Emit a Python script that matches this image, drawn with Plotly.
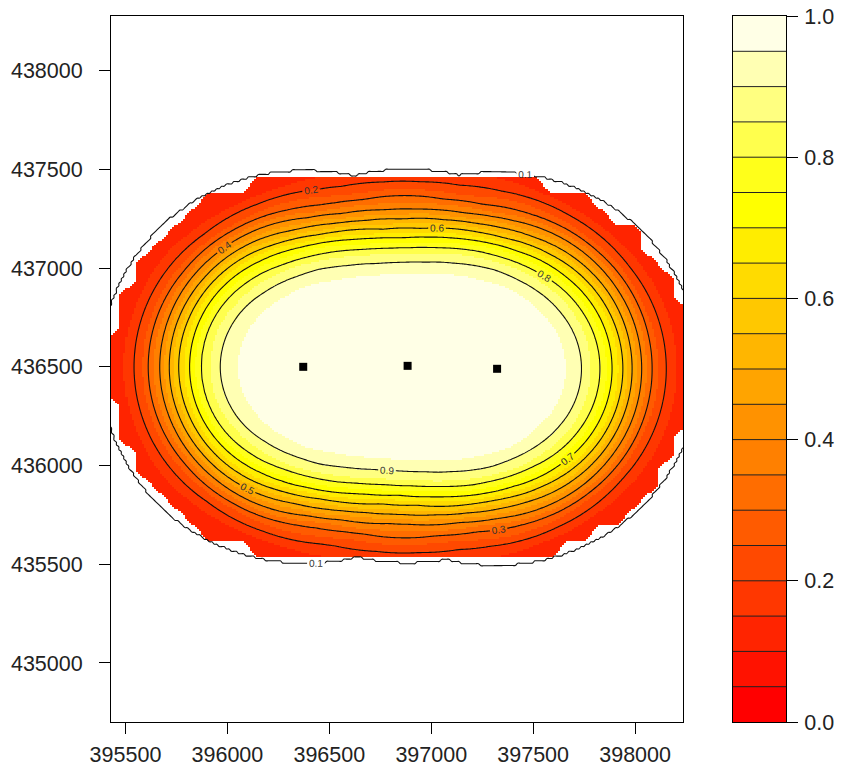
import numpy as np
import plotly.graph_objects as go

# Receiver positions (easting, northing in metres)
receiver_x = [396372, 396884, 397323]
receiver_y = [436500, 436505, 436490]

# Single-receiver detection probability against distance (m)
range_m = [0, 100, 200, 300, 400, 500, 600, 700, 800, 900, 1000, 1100, 1200]
detect_p = [0.996, 0.990, 0.978, 0.951, 0.894, 0.784, 0.613, 0.407, 0.230, 0.130, 0.080, 0.030, 0.0]
# Surface is defined within this distance of the nearest receiver,
# and never reported below the floor value inside that range
max_range_m = 1000
floor_p = 0.105

# Colour levels (0.05 steps) and heat palette
levels = [round(0.05 * i, 2) for i in range(21)]
heat_colors = [
    "#FF0000", "#FF1200", "#FF2400", "#FF3700", "#FF4900",
    "#FF5B00", "#FF6D00", "#FF8000", "#FF9200", "#FFA400",
    "#FFB600", "#FFC800", "#FFDB00", "#FFED00", "#FFFF00",
    "#FFFF1A", "#FFFF4D", "#FFFF80", "#FFFFB3", "#FFFFE6",
]

# Axis extents and ticks
x_range = [395429, 398235]
y_range = [434701, 438277]
x_ticks = [395500, 396000, 396500, 397000, 397500, 398000]
y_ticks = [435000, 435500, 436000, 436500, 437000, 437500, 438000]
bar_ticks = [0.0, 0.2, 0.4, 0.6, 0.8, 1.0]

# Coarse interpolation nodes that bound the shaded surface
node_step = 80.0
node_x0 = 395430.0
node_y0 = 437420.0
cover_radius = 962.0


def nearest_distance(xg, yg):
    out = np.full(np.shape(xg), np.inf)
    for rx, ry in zip(receiver_x, receiver_y):
        out = np.minimum(out, np.hypot(xg - rx, yg - ry))
    return out


def combined_detection(xg, yg):
    miss = np.ones_like(xg, dtype=float)
    for rx, ry in zip(receiver_x, receiver_y):
        d = np.hypot(xg - rx, yg - ry)
        miss *= 1.0 - np.interp(d, range_m, detect_p)
    prob = np.maximum(1.0 - miss, floor_p)
    return np.where(nearest_distance(xg, yg) <= max_range_m, prob, 0.0)


# Fine grid for the shaded surface
xf = np.arange(395425.0, 398246.0, 10.0)
yf = np.arange(434695.0, 438286.0, 10.0)
XF, YF = np.meshgrid(xf, yf)
zf = combined_detection(XF, YF)

# Coverage: node indicator, bilinearly spread to the fine grid
xn = node_x0 + node_step * np.arange(-3, 40)
yn = node_y0 + node_step * np.arange(-50, 4)
XN, YN = np.meshgrid(xn, yn)
inside = (nearest_distance(XN, YN) <= cover_radius).astype(float)
along_x = np.array([np.interp(xf, xn, row) for row in inside])
cover = np.array([np.interp(yf, yn, along_x[:, k]) for k in range(len(xf))]).T
zf = np.where(cover >= 0.5, zf, np.nan)

# Grid for contour lines
xc = np.arange(395420.0, 398250.0, 12.0)
yc = np.arange(434690.0, 438290.0, 12.0)
XC, YC = np.meshgrid(xc, yc)
zc = combined_detection(XC, YC)

# Discrete colourscale: one flat colour per 0.05 band
scale = []
for i, c in enumerate(heat_colors):
    scale.append([levels[i], c])
    scale.append([levels[i + 1], c])

font_family = "Liberation Sans, Arial, sans-serif"
fig = go.Figure()

fig.add_trace(go.Heatmap(
    x=xf, y=yf, z=zf, colorscale=scale, zmin=0, zmax=1,
    showscale=False, hoverinfo="skip", zsmooth=False,
    xaxis="x", yaxis="y",
))

fig.add_trace(go.Contour(
    x=xc, y=yc, z=zc,
    contours=dict(start=0.1, end=0.9, size=0.1, coloring="none",
                  showlabels=True, labelformat=".1f",
                  labelfont=dict(size=10, color="#333333", family=font_family)),
    line=dict(color="#111111", width=1.1),
    showscale=False, hoverinfo="skip",
    xaxis="x", yaxis="y",
))

fig.add_trace(go.Scatter(
    x=receiver_x, y=receiver_y, mode="markers",
    marker=dict(symbol="square", size=8, color="black"),
    showlegend=False, hoverinfo="skip",
    xaxis="x", yaxis="y",
))

# Legend bar: bands drawn as a single-column heatmap
band_mid = [(levels[i] + levels[i + 1]) / 2 for i in range(len(heat_colors))]
fig.add_trace(go.Heatmap(
    x=[0, 1], y=levels, z=[[v] for v in band_mid],
    colorscale=scale, zmin=0, zmax=1, showscale=False, hoverinfo="skip",
    xaxis="x2", yaxis="y2",
))
sep_x, sep_y = [], []
for lv in levels[1:-1]:
    sep_x += [0, 1, None]
    sep_y += [lv, lv, None]
fig.add_trace(go.Scatter(
    x=sep_x, y=sep_y, mode="lines",
    line=dict(color="#222222", width=1),
    showlegend=False, hoverinfo="skip",
    xaxis="x2", yaxis="y2",
))

axis_common = dict(
    showline=True, linecolor="black", linewidth=1, mirror=True,
    ticks="outside", ticklen=11, tickcolor="black", tickwidth=1,
    showgrid=False, zeroline=False, automargin=False,
)

fig.update_layout(
    width=845, height=773,
    margin=dict(l=111, r=59, t=16, b=51),
    paper_bgcolor="white", plot_bgcolor="white",
    font=dict(family=font_family, size=21.5, color="#222222"),
    showlegend=False,
    xaxis=dict(domain=[0, 572 / 675], range=x_range, tickvals=x_ticks,
               tickformat="d", ticklabelstandoff=2, **axis_common),
    yaxis=dict(domain=[0, 1], range=y_range, tickvals=y_ticks,
               tickformat="d", ticklabelstandoff=12, **axis_common),
    xaxis2=dict(domain=[622 / 675, 1], range=[0, 1], showline=True,
                linecolor="black", linewidth=1, mirror=True,
                showticklabels=False, ticks="", showgrid=False,
                zeroline=False, anchor="y2", automargin=False),
    yaxis2=dict(domain=[0, 1], range=[0, 1], side="right", anchor="x2",
                tickvals=bar_ticks, tickformat=".1f", ticklabelstandoff=2,
                **axis_common),
)

fig.write_html("out.html")
